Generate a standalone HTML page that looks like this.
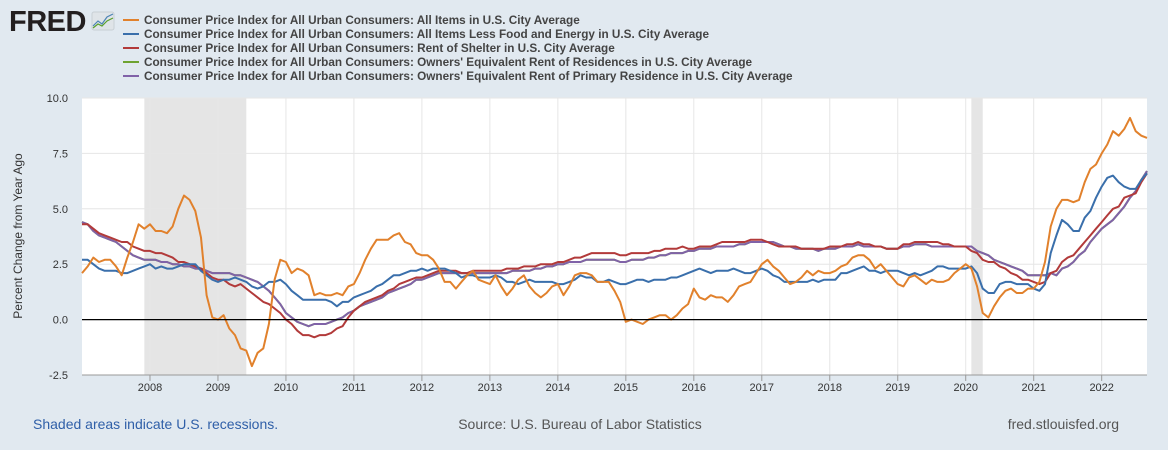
<!DOCTYPE html>
<html><head><meta charset="utf-8">
<style>
body{margin:0;background:#e1e9f0;font-family:"Liberation Sans",sans-serif;}
#wrap{position:relative;width:1168px;height:450px;overflow:hidden;background:#e1e9f0;}
</style></head>
<body>
<div id="wrap">
<svg id="chart" width="1168" height="450" xmlns="http://www.w3.org/2000/svg">
  <g>
    <text x="9" y="31" font-family="Liberation Sans" font-weight="bold" font-size="29" fill="#231f20" letter-spacing="-0.5">FRED</text>
    <rect x="92" y="12" width="22" height="18" rx="2" fill="#dfe4e8" stroke="#c8cfd5"/>
    <polyline points="93,26 98,21 102,24 107,17 113,14" fill="none" stroke="#4d84b5" stroke-width="1.2"/>
    <polyline points="93,28 98,24 102,26 107,21 113,18" fill="none" stroke="#5aa02c" stroke-width="1.2"/>
  </g>
  <g id="legend"></g>
  <rect x="82" y="98" width="1065" height="277" fill="#ffffff"/>
  <g id="rec"></g>
  <g id="grid"></g>
  <g id="series"></g>
  <g id="axes"></g>
  <text transform="translate(22,236) rotate(-90)" text-anchor="middle" font-size="12" fill="#333">Percent Change from Year Ago</text>
  <text x="33" y="429" font-size="14" fill="#2f5fa8">Shaded areas indicate U.S. recessions.</text>
  <text x="580" y="429" font-size="14" fill="#555" text-anchor="middle">Source: U.S. Bureau of Labor Statistics</text>
  <text x="1119" y="429" font-size="14" fill="#555" text-anchor="end">fred.stlouisfed.org</text>
</svg>
</div>
<script>
const yTicks=[10.0,7.5,5.0,2.5,0.0,-2.5];
const xYears=[2008,2009,2010,2011,2012,2013,2014,2015,2016,2017,2018,2019,2020,2021,2022];
const recessions=[[2007.917,2009.417],[2020.083,2020.25]];
const labels=["Consumer Price Index for All Urban Consumers: All Items in U.S. City Average","Consumer Price Index for All Urban Consumers: All Items Less Food and Energy in U.S. City Average","Consumer Price Index for All Urban Consumers: Rent of Shelter in U.S. City Average","Consumer Price Index for All Urban Consumers: Owners' Equivalent Rent of Residences in U.S. City Average","Consumer Price Index for All Urban Consumers: Owners' Equivalent Rent of Primary Residence in U.S. City Average"];
const colors=["#e1812c","#3a6fab","#b23a3a","#6ea331","#8062a8"];
const allItems=[2.1,2.4,2.8,2.6,2.7,2.7,2.4,2.0,2.8,3.5,4.3,4.1,
4.3,4.0,4.0,3.9,4.2,5.0,5.6,5.4,4.9,3.7,1.1,0.1,
0.0,0.2,-0.4,-0.7,-1.3,-1.4,-2.1,-1.5,-1.3,-0.2,1.8,2.7,
2.6,2.1,2.3,2.2,2.0,1.1,1.2,1.1,1.1,1.2,1.1,1.5,
1.6,2.1,2.7,3.2,3.6,3.6,3.6,3.8,3.9,3.5,3.4,3.0,
2.9,2.9,2.7,2.3,1.7,1.7,1.4,1.7,2.0,2.2,1.8,1.7,
1.6,2.0,1.5,1.1,1.4,1.8,2.0,1.5,1.2,1.0,1.2,1.5,
1.6,1.1,1.5,2.0,2.1,2.1,2.0,1.7,1.7,1.7,1.3,0.8,
-0.1,0.0,-0.1,-0.2,0.0,0.1,0.2,0.2,0.0,0.2,0.5,0.7,
1.4,1.0,0.9,1.1,1.0,1.0,0.8,1.1,1.5,1.6,1.7,2.1,
2.5,2.7,2.4,2.2,1.9,1.6,1.7,1.9,2.2,2.0,2.2,2.1,
2.1,2.2,2.4,2.5,2.8,2.9,2.9,2.7,2.3,2.5,2.2,1.9,
1.6,1.5,1.9,2.0,1.8,1.6,1.8,1.7,1.7,1.8,2.1,2.3,
2.5,2.3,1.5,0.3,0.1,0.6,1.0,1.3,1.4,1.2,1.2,1.4,
1.4,1.7,2.6,4.2,5.0,5.4,5.4,5.3,5.4,6.2,6.8,7.0,
7.5,7.9,8.5,8.3,8.6,9.1,8.5,8.3,8.2];
const core=[2.7,2.7,2.5,2.3,2.2,2.2,2.2,2.1,2.1,2.2,2.3,2.4,
2.5,2.3,2.4,2.3,2.3,2.4,2.5,2.5,2.5,2.2,2.0,1.8,
1.7,1.8,1.8,1.9,1.8,1.7,1.5,1.4,1.5,1.7,1.7,1.8,
1.6,1.3,1.1,0.9,0.9,0.9,0.9,0.9,0.8,0.6,0.8,0.8,
1.0,1.1,1.2,1.3,1.5,1.6,1.8,2.0,2.0,2.1,2.2,2.2,
2.3,2.2,2.3,2.3,2.3,2.2,2.1,1.9,2.0,2.0,1.9,1.9,
1.9,2.0,1.9,1.7,1.7,1.6,1.7,1.8,1.7,1.7,1.7,1.7,
1.6,1.6,1.7,1.8,2.0,1.9,1.9,1.7,1.7,1.8,1.7,1.6,
1.6,1.7,1.8,1.8,1.7,1.8,1.8,1.8,1.9,1.9,2.0,2.1,
2.2,2.3,2.2,2.1,2.2,2.2,2.2,2.3,2.2,2.1,2.1,2.2,
2.3,2.2,2.0,1.9,1.7,1.7,1.7,1.7,1.7,1.8,1.7,1.8,
1.8,1.8,2.1,2.1,2.2,2.3,2.4,2.2,2.2,2.1,2.2,2.2,
2.2,2.1,2.0,2.1,2.0,2.1,2.2,2.4,2.4,2.3,2.3,2.3,
2.3,2.4,2.1,1.4,1.2,1.2,1.6,1.7,1.7,1.6,1.6,1.6,
1.4,1.3,1.6,3.0,3.8,4.5,4.3,4.0,4.0,4.6,4.9,5.5,
6.0,6.4,6.5,6.2,6.0,5.9,5.9,6.3,6.6];
const shelter=[4.3,4.3,4.1,3.9,3.8,3.7,3.6,3.5,3.5,3.3,3.2,3.1,
3.1,3.0,3.0,2.9,2.8,2.6,2.6,2.5,2.4,2.3,2.1,1.9,
1.8,1.8,1.6,1.5,1.6,1.4,1.2,1.0,0.8,0.7,0.5,0.3,
0.0,-0.2,-0.5,-0.7,-0.7,-0.8,-0.7,-0.7,-0.6,-0.4,-0.3,0.1,
0.4,0.6,0.8,0.9,1.0,1.1,1.3,1.4,1.6,1.7,1.8,1.9,
1.9,2.0,2.1,2.2,2.2,2.2,2.2,2.1,2.1,2.2,2.2,2.2,
2.2,2.2,2.2,2.3,2.3,2.3,2.4,2.4,2.4,2.5,2.5,2.5,
2.6,2.6,2.7,2.8,2.8,2.9,3.0,3.0,3.0,3.0,3.0,2.9,
2.9,3.0,3.0,3.0,3.0,3.1,3.1,3.2,3.2,3.2,3.3,3.2,
3.2,3.3,3.3,3.3,3.4,3.5,3.5,3.5,3.5,3.5,3.6,3.6,
3.6,3.5,3.4,3.3,3.3,3.3,3.3,3.2,3.2,3.2,3.2,3.2,
3.3,3.3,3.3,3.4,3.4,3.5,3.4,3.4,3.3,3.3,3.2,3.2,
3.2,3.4,3.4,3.5,3.5,3.5,3.5,3.5,3.4,3.4,3.3,3.3,
3.3,3.1,3.0,2.7,2.6,2.6,2.4,2.3,2.1,2.0,1.8,1.8,
1.7,1.6,1.7,2.1,2.2,2.6,2.8,2.9,3.2,3.5,3.8,4.1,
4.4,4.7,5.0,5.1,5.5,5.6,5.7,6.2,6.6];
const oerRes=[4.4,4.3,4.0,3.8,3.7,3.6,3.5,3.3,3.1,2.9,2.8,2.7,
2.7,2.7,2.6,2.6,2.5,2.5,2.4,2.4,2.3,2.3,2.2,2.1,
2.1,2.1,2.1,2.0,2.0,1.9,1.8,1.7,1.5,1.3,1.0,0.7,
0.3,0.1,-0.1,-0.2,-0.3,-0.2,-0.2,-0.2,-0.1,0.0,0.1,0.3,
0.4,0.6,0.7,0.8,0.9,1.0,1.2,1.3,1.4,1.5,1.6,1.8,
1.8,1.9,2.0,2.1,2.1,2.1,2.1,2.1,2.1,2.1,2.1,2.1,
2.1,2.1,2.1,2.1,2.2,2.2,2.2,2.2,2.3,2.3,2.4,2.4,
2.5,2.5,2.6,2.6,2.6,2.7,2.7,2.7,2.7,2.7,2.7,2.6,
2.6,2.7,2.7,2.7,2.8,2.8,2.9,2.9,3.0,3.0,3.0,3.1,
3.1,3.2,3.2,3.2,3.3,3.3,3.3,3.3,3.4,3.4,3.5,3.5,
3.5,3.5,3.5,3.4,3.3,3.3,3.2,3.2,3.2,3.2,3.1,3.2,
3.2,3.2,3.3,3.3,3.3,3.4,3.3,3.3,3.3,3.3,3.2,3.2,
3.2,3.3,3.3,3.4,3.4,3.4,3.3,3.3,3.3,3.3,3.3,3.3,
3.3,3.3,3.1,3.0,2.9,2.7,2.6,2.5,2.4,2.3,2.2,2.0,
2.0,2.0,2.0,2.1,2.0,2.3,2.4,2.6,2.9,3.1,3.5,3.8,
4.1,4.3,4.5,4.8,5.1,5.5,5.8,6.3,6.7];
const oerPrim=[4.4,4.3,4.0,3.8,3.7,3.6,3.5,3.3,3.1,2.9,2.8,2.7,
2.7,2.7,2.6,2.6,2.5,2.5,2.4,2.4,2.3,2.3,2.2,2.1,
2.1,2.1,2.1,2.0,2.0,1.9,1.8,1.7,1.5,1.3,1.0,0.7,
0.3,0.1,-0.1,-0.2,-0.3,-0.2,-0.2,-0.2,-0.1,0.0,0.1,0.3,
0.4,0.6,0.7,0.8,0.9,1.0,1.2,1.3,1.4,1.5,1.6,1.8,
1.8,1.9,2.0,2.1,2.1,2.1,2.1,2.1,2.1,2.1,2.1,2.1,
2.1,2.1,2.1,2.1,2.2,2.2,2.2,2.2,2.3,2.3,2.4,2.4,
2.5,2.5,2.6,2.6,2.6,2.7,2.7,2.7,2.7,2.7,2.7,2.6,
2.6,2.7,2.7,2.7,2.8,2.8,2.9,2.9,3.0,3.0,3.0,3.1,
3.1,3.2,3.2,3.2,3.3,3.3,3.3,3.3,3.4,3.4,3.5,3.5,
3.5,3.5,3.5,3.4,3.3,3.3,3.2,3.2,3.2,3.2,3.1,3.2,
3.2,3.2,3.3,3.3,3.3,3.4,3.3,3.3,3.3,3.3,3.2,3.2,
3.2,3.3,3.3,3.4,3.4,3.4,3.3,3.3,3.3,3.3,3.3,3.3,
3.3,3.3,3.1,3.0,2.9,2.7,2.6,2.5,2.4,2.3,2.2,2.0,
2.0,2.0,2.0,2.1,2.0,2.3,2.4,2.6,2.9,3.1,3.5,3.8,
4.1,4.3,4.5,4.8,5.1,5.5,5.8,6.3,6.7];

const NS="http://www.w3.org/2000/svg";
const X0=82,X1=1147,Y0=98,Y1=375;
const startT=2007.0,endT=2022+8/12;
const xs=t=>X0+(t-startT)/(endT-startT)*(X1-X0);
const ys=v=>Y1-(v+2.5)/12.5*(Y1-Y0);
function mk(tag,attrs,parent){const e=document.createElementNS(NS,tag);for(const k in attrs)e.setAttribute(k,attrs[k]);parent.appendChild(e);return e;}

const leg=document.getElementById('legend');
labels.forEach((l,i)=>{
  const y=20+i*14;
  const sw=mk('line',{x1:123,x2:139,y1:y,y2:y,stroke:colors[i],'stroke-width':2},leg);
  
  
  const t=mk('text',{x:144,y:y+4,'font-size':11.75,'font-weight':'bold',fill:'#444'},leg);
  t.textContent=l;
  
  
});

const rec=document.getElementById('rec');
recessions.forEach((r,i)=>{
  const e=mk('rect',{x:xs(r[0]),y:Y0,width:xs(r[1])-xs(r[0]),height:Y1-Y0,fill:'#e5e5e5'},rec);
  
  
});

const grid=document.getElementById('grid');
const axes=document.getElementById('axes');
yTicks.forEach(v=>{
  const y=ys(v);
  if(v!==0){const g=mk('line',{x1:X0,x2:X1,y1:y,y2:y,stroke:'#e6e6e6','stroke-width':1},grid);
  
  }
  const t=mk('text',{x:68,y:y+4,'text-anchor':'end','font-size':11,fill:'#333'},axes);
  t.textContent=v.toFixed(1);
  
  
});
xYears.forEach(yr=>{
  const x=xs(yr);
  const g=mk('line',{x1:x,x2:x,y1:Y0,y2:Y1,stroke:'#e6e6e6','stroke-width':1},grid);
  
  
  const tk=mk('line',{x1:x,x2:x,y1:Y1,y2:Y1+6,stroke:'#999'},axes);
  
  
  const t=mk('text',{x:x,y:Y1+16,'text-anchor':'middle','font-size':11,fill:'#333'},axes);
  t.textContent=yr;
  
  
});
const zl=mk('line',{x1:X0,x2:X1,y1:ys(0),y2:ys(0),stroke:'#000','stroke-width':1.3},axes);


const xa=mk('line',{x1:X0,x2:X1,y1:Y1,y2:Y1,stroke:'#999'},axes);



const ser=document.getElementById('series');
const all=[oerRes,oerPrim,shelter,core,allItems];
const cidx=[3,4,2,1,0];
const names=['series-oer-residences','series-oer-primary','series-rent-of-shelter','series-core-cpi','series-all-items'];
all.forEach((arr,k)=>{
  const pts=arr.map((v,i)=>xs(startT+i/12).toFixed(1)+','+ys(v).toFixed(1)).join(' ');
  const p=mk('polyline',{points:pts,fill:'none',stroke:colors[cidx[k]],'stroke-width':2,'stroke-linejoin':'round'},ser);
  
  
});
</script>
</body></html>
